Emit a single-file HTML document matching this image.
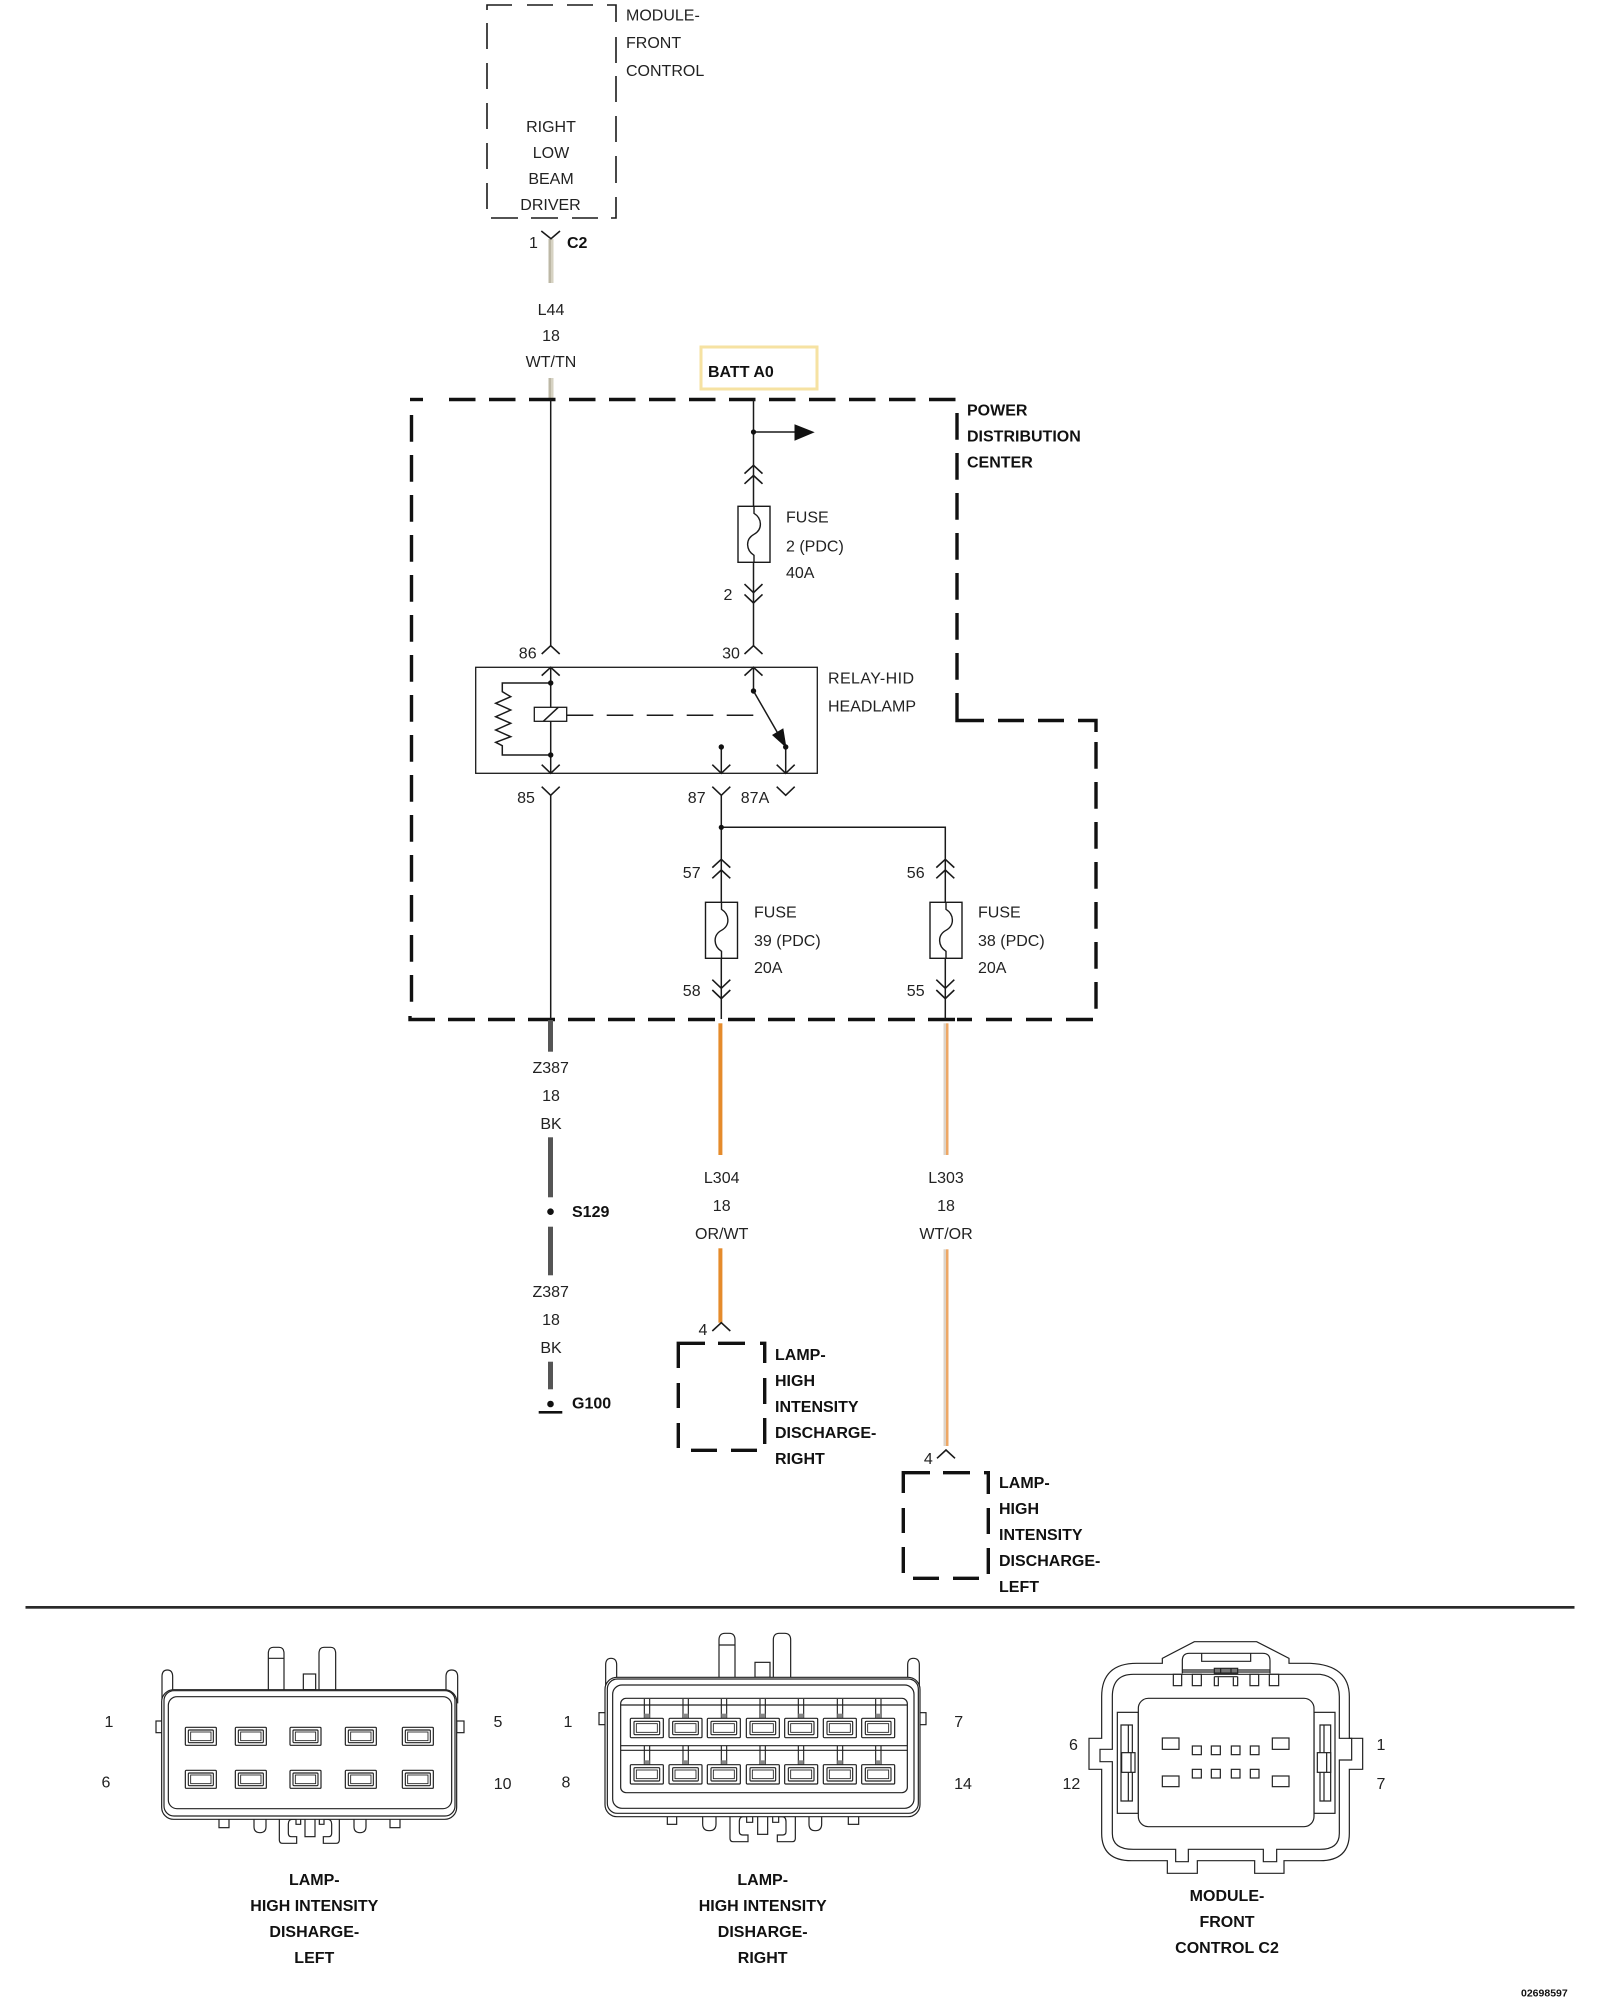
<!DOCTYPE html>
<html><head><meta charset="utf-8"><title>Diagram</title>
<style>
html,body{margin:0;padding:0;background:#fff;width:1600px;height:2000px;overflow:hidden}
svg{display:block}
text{font-family:"Liberation Sans",Arial,sans-serif;font-size:16px;fill:#222}
.b{font-weight:bold;fill:#111}
.m{text-anchor:middle}
.l{stroke:#1a1a1a;stroke-width:1.5;fill:none}
.d{stroke:#111;stroke-width:3.4;fill:none}
.d2{stroke:#1a1a1a;stroke-width:1.6;fill:none}
.c{stroke:#222;stroke-width:3.6;fill:none}
.cw{stroke:#222;stroke-width:3.6;fill:#fff}
</style></head><body>
<svg width="1600" height="2000" viewBox="0 0 1600 2000" xmlns="http://www.w3.org/2000/svg">
<defs>
<path id="up" d="M-9 8.3L0 0L9 8.3" fill="none" stroke="#1a1a1a" stroke-width="1.6"/>
<path id="dn" d="M-9 -8.6L0 0L9 -8.6" fill="none" stroke="#1a1a1a" stroke-width="1.6"/>
<g id="fuse"><rect x="-16" y="0" width="32" height="56" fill="#fff" stroke="#1a1a1a" stroke-width="1.4"/><path d="M0 0V7C8 12 9 23 0 28C-9 33 -8 44 0 49V56" fill="none" stroke="#1a1a1a" stroke-width="1.4"/></g>
<g id="pin"><rect x="0" y="0" width="93" height="54" rx="3" fill="#fff" stroke="#222" stroke-width="3.6"/><rect x="9" y="8" width="75" height="38" rx="3" fill="none" stroke="#222" stroke-width="3.4"/><rect x="16" y="14" width="61" height="26" fill="none" stroke="#222" stroke-width="2.6"/></g>
<g id="pin2"><rect x="0" y="0" width="99" height="58" rx="3" fill="#fff" stroke="#222" stroke-width="3.6"/><rect x="11" y="9" width="77" height="40" rx="3" fill="none" stroke="#222" stroke-width="3.4"/><rect x="18" y="16" width="63" height="26" fill="none" stroke="#222" stroke-width="2.6"/></g>
<g id="stem"><path d="M-8 0V58M8 0V58" fill="none" stroke="#222" stroke-width="3.4"/><rect x="-8" y="44" width="16" height="14" fill="#888"/></g>
</defs>

<!-- Module front control box -->
<g class="d2">
<path d="M487 10V5H512M527 5H553M567 5H593M607 5H616V22"/>
<path d="M487 23V49M487 63V89M487 103V129M487 143V169M487 183V209"/>
<path d="M616 37V63M616 76V102M616 116V142M616 156V183M616 197V218H611"/>
<path d="M491 218H518M531 218H558M572 218H598"/>
</g>
<text x="626" y="20.5">MODULE-</text>
<text x="626" y="48">FRONT</text>
<text x="626" y="76">CONTROL</text>
<text class="m" x="551" y="132">RIGHT</text>
<text class="m" x="551" y="158">LOW</text>
<text class="m" x="551" y="184">BEAM</text>
<text class="m" x="550.5" y="210">DRIVER</text>
<text class="m" x="533.5" y="248">1</text>
<text class="b" x="567" y="248">C2</text>
<rect x="548.5" y="239" width="2.5" height="44" fill="#bdb8a6"/><rect x="551" y="239" width="2.5" height="44" fill="#d6d2c2"/>
<path d="M541.3 231L551 238.7L560 231" fill="none" stroke="#1a1a1a" stroke-width="1.6"/>
<text class="m" x="551" y="315">L44</text>
<text class="m" x="551" y="341">18</text>
<text class="m" x="551" y="367">WT/TN</text>
<rect x="548.5" y="378" width="2.5" height="21" fill="#bdb8a6"/><rect x="551" y="378" width="2.5" height="21" fill="#d6d2c2"/>

<!-- BATT -->
<rect x="701" y="347" width="116" height="42" fill="#fff" stroke="#f6e2a2" stroke-width="3"/>
<text class="b" x="708" y="377">BATT A0</text>

<!-- PDC dashed outline -->
<g class="d">
<path d="M410 399.5H423"/>
<path d="M449 399.5H956" stroke-dasharray="26.5 13.5"/>
<path d="M411.5 415V1003" stroke-dasharray="26.7 13.3"/>
<path d="M410 1016V1019.5H435"/>
<path d="M448 1019.5H955" stroke-dasharray="27 13"/>
<path d="M957 1019.5H972M986 1019.5H1012M1026 1019.5H1052M1066 1019.5H1093"/>
<path d="M957 413V681" stroke-dasharray="26.7 13.3"/>
<path d="M957 693V720.5H984M998 720.5H1024M1038 720.5H1064M1078 720.5H1096V732"/>
<path d="M1096 742V1009" stroke-dasharray="26.7 13.3"/>
</g>
<text class="b" x="967" y="415.7">POWER</text>
<text class="b" x="967" y="441.7">DISTRIBUTION</text>
<text class="b" x="967" y="467.7">CENTER</text>

<!-- Wires in PDC -->
<path class="l" d="M550.7 399.5V645.7"/>
<path class="l" d="M753.5 399.5V645.7"/>
<path class="l" d="M753.5 432H796"/>
<circle cx="753.5" cy="432" r="2.6" fill="#111"/>
<path d="M794.5 424.3L814.7 432.3L794.5 440.7Z" fill="#111"/>
<use href="#up" x="753.5" y="465.3"/><use href="#up" x="753.5" y="475.5"/>
<use href="#fuse" x="754" y="506.3"/>
<use href="#dn" x="753.5" y="592.7"/><use href="#dn" x="753.5" y="603"/>
<text x="786" y="522.7">FUSE</text>
<text x="786" y="551.3">2 (PDC)</text>
<text x="786" y="578">40A</text>
<text class="m" x="728" y="600">2</text>
<use href="#up" x="550.7" y="645.7"/><use href="#up" x="753.5" y="645.7"/>
<text class="m" x="527.7" y="658.7">86</text>
<text class="m" x="731" y="658.7">30</text>

<!-- Relay -->
<rect x="475.7" y="667.3" width="341.6" height="106" fill="none" stroke="#1a1a1a" stroke-width="1.3"/>
<text x="828" y="683.3" textLength="86" lengthAdjust="spacing">RELAY-HID</text>
<text x="828" y="711.3">HEADLAMP</text>
<use href="#up" x="550.7" y="667.3"/><use href="#up" x="753.5" y="667.3"/>
<path class="l" d="M550.7 667.3V773.3"/>
<path class="l" d="M550.7 683H502.3V691.7L510.7 696.7L495.7 703.3L510.7 710L495.7 716.7L510.7 723.3L495.7 730L510.7 736.7L495.7 742.3L502.3 745.7V755H550.7"/>
<circle cx="550.7" cy="683" r="2.7" fill="#111"/><circle cx="550.7" cy="755" r="2.7" fill="#111"/>
<rect x="534.3" y="707.3" width="32.4" height="14" fill="#fff" stroke="#1a1a1a" stroke-width="1.3"/>
<path class="l" d="M543.3 721.3L558.3 707.3"/>
<path class="l" d="M566.7 715.3H593.3M606.7 715.3H633.3M646.7 715.3H673.3M686.7 715.3H713.3M726.7 715.3H753.3"/>
<path class="l" d="M753.5 667.3V691L785.7 747V773.3"/>
<circle cx="753.5" cy="691" r="2.7" fill="#111"/><circle cx="785.7" cy="747" r="2.7" fill="#111"/>
<path d="M772 735L783.3 728.3L786.5 748Z" fill="#111"/>
<path class="l" d="M721.3 747V773.3"/><circle cx="721.3" cy="747" r="2.7" fill="#111"/>
<use href="#dn" x="550.7" y="773.3"/><use href="#dn" x="721.3" y="773.3"/><use href="#dn" x="785.7" y="773.3"/>
<use href="#dn" x="550.7" y="795.3"/><use href="#dn" x="721.3" y="795.3"/><use href="#dn" x="785.7" y="795.3"/>
<text class="m" x="526" y="803">85</text>
<text class="m" x="696.7" y="803">87</text>
<text class="m" x="755" y="803">87A</text>
<path class="l" d="M550.7 795.3V1019"/>
<path class="l" d="M721.3 795.3V859.3"/>
<path class="l" d="M721.3 827.3H945.3V859.3"/>
<circle cx="721.3" cy="827.3" r="2.6" fill="#111"/>

<!-- Fuses 39, 38 -->
<path class="l" d="M721.3 859.3V1019"/>
<path class="l" d="M945.3 859.3V1019"/>
<use href="#up" x="721.3" y="859.3"/><use href="#up" x="721.3" y="870"/>
<use href="#up" x="945.3" y="859.3"/><use href="#up" x="945.3" y="870"/>
<use href="#fuse" x="721.5" y="902.3"/>
<use href="#fuse" x="946" y="902.3"/>
<use href="#dn" x="721.3" y="988.3"/><use href="#dn" x="721.3" y="998.6"/>
<use href="#dn" x="945.3" y="988.3"/><use href="#dn" x="945.3" y="998.6"/>
<text x="754" y="917.7">FUSE</text>
<text x="754" y="946">39 (PDC)</text>
<text x="754" y="973">20A</text>
<text x="978" y="917.7">FUSE</text>
<text x="978" y="946">38 (PDC)</text>
<text x="978" y="973">20A</text>
<text class="m" x="691.7" y="878">57</text>
<text class="m" x="691.7" y="996">58</text>
<text class="m" x="915.7" y="878">56</text>
<text class="m" x="915.7" y="996">55</text>

<!-- Z387 -->
<g fill="#555">
<rect x="548" y="1020" width="5" height="31.7"/>
<rect x="548" y="1137.3" width="5" height="60"/>
<rect x="548" y="1226.7" width="5" height="48.6"/>
<rect x="548" y="1361.7" width="5" height="27.6"/>
</g>
<text class="m" x="550.7" y="1073">Z387</text>
<text class="m" x="551" y="1101">18</text>
<text class="m" x="551" y="1129">BK</text>
<circle cx="550.5" cy="1211.7" r="3.3" fill="#111"/>
<text class="b" x="572" y="1217">S129</text>
<text class="m" x="550.7" y="1297">Z387</text>
<text class="m" x="551" y="1325">18</text>
<text class="m" x="551" y="1353">BK</text>
<circle cx="550.5" cy="1404" r="3.3" fill="#111"/>
<rect x="538.7" y="1411" width="23.6" height="2.6" fill="#111"/>
<text class="b" x="572" y="1408.7">G100</text>

<!-- L304 -->
<rect x="718.4" y="1023.3" width="4" height="131.7" fill="#e58b2b"/>
<rect x="718.4" y="1248.3" width="4" height="74.4" fill="#e58b2b"/>
<text class="m" x="721.7" y="1183">L304</text>
<text class="m" x="721.7" y="1211">18</text>
<text class="m" x="721.7" y="1239">OR/WT</text>
<use href="#up" x="721.3" y="1322.7"/>
<text class="m" x="703" y="1335">4</text>
<g class="d">
<path d="M678.3 1368V1343.3H705M718 1343.3H745M760 1343.3H764.7V1363"/>
<path d="M678.3 1383V1408M678.3 1423V1448"/>
<path d="M764.7 1378V1404M764.7 1418V1444"/>
<path d="M691 1450.3H717M731 1450.3H757"/>
</g>
<text class="b" x="775" y="1360">LAMP-</text>
<text class="b" x="775" y="1386">HIGH</text>
<text class="b" x="775" y="1412">INTENSITY</text>
<text class="b" x="775" y="1438">DISCHARGE-</text>
<text class="b" x="775" y="1464">RIGHT</text>

<!-- L303 -->
<rect x="943.5" y="1023.3" width="2.5" height="131.7" fill="#dcd3c8"/>
<rect x="946" y="1023.3" width="2.5" height="131.7" fill="#eda765"/>
<rect x="943.5" y="1249.3" width="2.5" height="196.7" fill="#dcd3c8"/>
<rect x="946" y="1249.3" width="2.5" height="196.7" fill="#eda765"/>
<text class="m" x="946" y="1183">L303</text>
<text class="m" x="946" y="1211">18</text>
<text class="m" x="946" y="1239">WT/OR</text>
<use href="#up" x="946" y="1450"/>
<text class="m" x="928.3" y="1464">4</text>
<g class="d">
<path d="M903.3 1493V1472.7H930M943 1472.7H970M984 1472.7H988.3V1494"/>
<path d="M903.3 1508V1533M903.3 1547V1573"/>
<path d="M988.3 1508V1534M988.3 1548V1574"/>
<path d="M913 1578.3H939M953 1578.3H979"/>
</g>
<text class="b" x="999" y="1488">LAMP-</text>
<text class="b" x="999" y="1514">HIGH</text>
<text class="b" x="999" y="1540">INTENSITY</text>
<text class="b" x="999" y="1566">DISCHARGE-</text>
<text class="b" x="999" y="1592">LEFT</text>

<!-- Rule -->
<rect x="25.5" y="1606" width="1549" height="2.7" fill="#2a2a2a"/>

<!-- Connector 1 -->
<g transform="translate(140,1620) scale(.33333)">
<path class="c" d="M66 240V170Q66 150 82 150Q98 150 98 170V215M918 215V170Q918 150 935 150Q953 150 953 170V250"/>
<path class="cw" d="M385 209V100Q385 82 400 82H417Q432 82 432 100V209M385 115H432"/>
<path class="cw" d="M537 209V100Q537 82 552 82H572Q587 82 587 100V209"/>
<rect class="cw" x="490" y="162" width="37" height="47"/>
<rect class="cw" x="48" y="303" width="20" height="35"/>
<rect class="cw" x="950" y="303" width="22" height="35"/>
<rect class="cw" x="237" y="590" width="30" height="33"/>
<rect class="cw" x="750" y="590" width="30" height="33"/>
<path class="cw" d="M342 590V620Q342 638 360 638Q378 638 378 620V590"/>
<path class="cw" d="M642 590V620Q642 638 660 638Q678 638 678 620V590"/>
<path class="cw" d="M418 590V660Q418 670 428 670H470V650H455Q445 650 445 640V612Q445 598 458 598H468V613H482V598"/>
<path class="cw" d="M598 590V660Q598 670 588 670H550V650H565Q575 650 575 640V612Q575 598 562 598H552V613H538V598"/>
<rect class="cw" x="495" y="590" width="30" height="60"/>
<rect class="cw" x="65" y="209" width="885" height="389" rx="36"/>
<rect class="c" x="72" y="212" width="873" height="376" rx="30"/>
<rect class="c" x="85" y="230" width="850" height="336" rx="26"/>
<use href="#pin" x="136" y="322"/><use href="#pin" x="286" y="322"/><use href="#pin" x="450" y="322"/><use href="#pin" x="616" y="322"/><use href="#pin" x="787" y="322"/>
<use href="#pin" x="136" y="451"/><use href="#pin" x="286" y="451"/><use href="#pin" x="450" y="451"/><use href="#pin" x="616" y="451"/><use href="#pin" x="787" y="451"/>
</g>
<text class="m" x="109" y="1727">1</text>
<text class="m" x="106" y="1787.7">6</text>
<text class="m" x="498" y="1727">5</text>
<text class="m" x="502.6" y="1789">10</text>
<text class="b m" x="314.3" y="1885">LAMP-</text>
<text class="b m" x="314.3" y="1911">HIGH INTENSITY</text>
<text class="b m" x="314.3" y="1937">DISHARGE-</text>
<text class="b m" x="314.3" y="1963">LEFT</text>

<!-- Connector 2 -->
<g transform="translate(590,1620) scale(.33333)">
<path class="c" d="M47 220V135Q47 115 63 115Q80 115 80 135V178M953 178V135Q953 115 970 115Q988 115 988 135V220"/>
<path class="cw" d="M387 172V60Q387 40 405 40H418Q435 40 435 60V172M387 75H435"/>
<path class="cw" d="M550 172V60Q550 40 568 40H584Q602 40 602 60V172"/>
<rect class="cw" x="495" y="127" width="45" height="45"/>
<rect class="cw" x="27" y="278" width="20" height="36"/>
<rect class="cw" x="988" y="278" width="20" height="36"/>
<rect class="cw" x="232" y="585" width="28" height="28"/>
<rect class="cw" x="775" y="585" width="31" height="28"/>
<path class="cw" d="M338 585V612Q338 632 358 632Q378 632 378 612V585"/>
<path class="cw" d="M657 585V612Q657 632 676 632Q695 632 695 612V585"/>
<path class="cw" d="M420 580V655Q420 665 430 665H474V645H458Q448 645 448 635V605Q448 590 460 590H470V607H488V590"/>
<path class="cw" d="M616 580V655Q616 665 606 665H562V645H578Q588 645 588 635V605Q588 590 576 590H566V607H548V590"/>
<rect class="cw" x="503" y="580" width="30" height="63"/>
<rect class="cw" x="45" y="172" width="945" height="418" rx="36"/>
<rect class="c" x="52" y="177" width="933" height="403" rx="30"/>
<rect class="c" x="68" y="195" width="904" height="370" rx="28"/>
<rect class="c" x="92" y="235" width="860" height="283" rx="16"/>
<path class="c" d="M92 255H952M92 377H952M92 391H952"/>
<g>
<use href="#stem" x="171" y="237"/><use href="#stem" x="287" y="237"/><use href="#stem" x="402" y="237"/><use href="#stem" x="518" y="237"/><use href="#stem" x="633" y="237"/><use href="#stem" x="750" y="237"/><use href="#stem" x="865" y="237"/>
<use href="#stem" x="171" y="377"/><use href="#stem" x="287" y="377"/><use href="#stem" x="402" y="377"/><use href="#stem" x="518" y="377"/><use href="#stem" x="633" y="377"/><use href="#stem" x="750" y="377"/><use href="#stem" x="865" y="377"/>
</g>
<use href="#pin2" x="121" y="295"/><use href="#pin2" x="237" y="295"/><use href="#pin2" x="352" y="295"/><use href="#pin2" x="469" y="295"/><use href="#pin2" x="584" y="295"/><use href="#pin2" x="700" y="295"/><use href="#pin2" x="815" y="295"/>
<use href="#pin2" x="121" y="434"/><use href="#pin2" x="237" y="434"/><use href="#pin2" x="352" y="434"/><use href="#pin2" x="469" y="434"/><use href="#pin2" x="584" y="434"/><use href="#pin2" x="700" y="434"/><use href="#pin2" x="815" y="434"/>
</g>
<text class="m" x="568" y="1727">1</text>
<text class="m" x="566" y="1787.7">8</text>
<text class="m" x="958.7" y="1727">7</text>
<text class="m" x="963" y="1789">14</text>
<text class="b m" x="762.7" y="1885">LAMP-</text>
<text class="b m" x="762.7" y="1911">HIGH INTENSITY</text>
<text class="b m" x="762.7" y="1937">DISHARGE-</text>
<text class="b m" x="762.7" y="1963">RIGHT</text>

<!-- Connector 3 -->
<g transform="translate(1060,1620) scale(.33333)">
<path class="cw" d="M307 130V115L403 65H590L687 115V130H750Q868 135 868 230V355H908V448H868V640Q868 722 780 722H672V760H584V722H412V760H322V722H215Q125 722 125 640V448H87V355H125V230Q125 130 230 130Z"/>
<path class="c" d="M220 163H780Q838 170 838 230V355H875V420H838V640Q838 688 780 688H650V725H610V688H385V725H347V688H220Q157 688 157 640V425H120V388H157V230Q157 163 220 163Z"/>
<path class="c" d="M367 160V122Q367 100 388 100H608Q630 100 630 122V160M425 100V124H572V100M367 150H630M367 156H630"/>
<rect class="cw" x="340" y="163" width="25" height="34"/><rect class="cw" x="397" y="163" width="27" height="34"/><rect class="cw" x="570" y="163" width="26" height="34"/><rect class="cw" x="628" y="163" width="28" height="34"/>
<rect class="c" x="463" y="145" width="70" height="15"/>
<path class="c" d="M482 145V160M513 145V160M463 170H533M463 170V197H475V172M533 170V197H520V172"/>
<rect class="c" x="172" y="277" width="63" height="303"/>
<rect class="c" x="762" y="277" width="63" height="303"/>
<path class="c" d="M183 315H217V543H183ZM205 315V543"/>
<path class="c" d="M780 315H812V543H780ZM792 315V543"/>
<rect x="185" y="398" width="40" height="59" fill="#fff" stroke="#222" stroke-width="3.6"/>
<rect x="772" y="398" width="40" height="59" fill="#fff" stroke="#222" stroke-width="3.6"/>
<path class="c" d="M213 398V457M800 398V457"/>
<rect class="cw" x="235" y="235" width="527" height="385" rx="30"/>
<rect class="c" x="307" y="354" width="50" height="34"/><rect class="c" x="637" y="354" width="50" height="34"/>
<rect class="c" x="307" y="468" width="50" height="32"/><rect class="c" x="637" y="468" width="50" height="32"/>
<rect class="c" x="397" y="378" width="27" height="26"/><rect class="c" x="454" y="378" width="27" height="26"/><rect class="c" x="514" y="378" width="26" height="26"/><rect class="c" x="571" y="378" width="26" height="26"/>
<rect class="c" x="397" y="448" width="27" height="26"/><rect class="c" x="454" y="448" width="27" height="26"/><rect class="c" x="514" y="448" width="26" height="26"/><rect class="c" x="571" y="448" width="26" height="26"/>
</g>
<text class="m" x="1073.5" y="1750">6</text>
<text class="m" x="1071.4" y="1789">12</text>
<text class="m" x="1381" y="1750">1</text>
<text class="m" x="1381" y="1789">7</text>
<text class="b m" x="1227" y="1901">MODULE-</text>
<text class="b m" x="1227" y="1927">FRONT</text>
<text class="b m" x="1227" y="1953">CONTROL C2</text>
<text class="b" x="1521" y="1996.7" style="font-size:10.5px">02698597</text>
</svg>
</body></html>
